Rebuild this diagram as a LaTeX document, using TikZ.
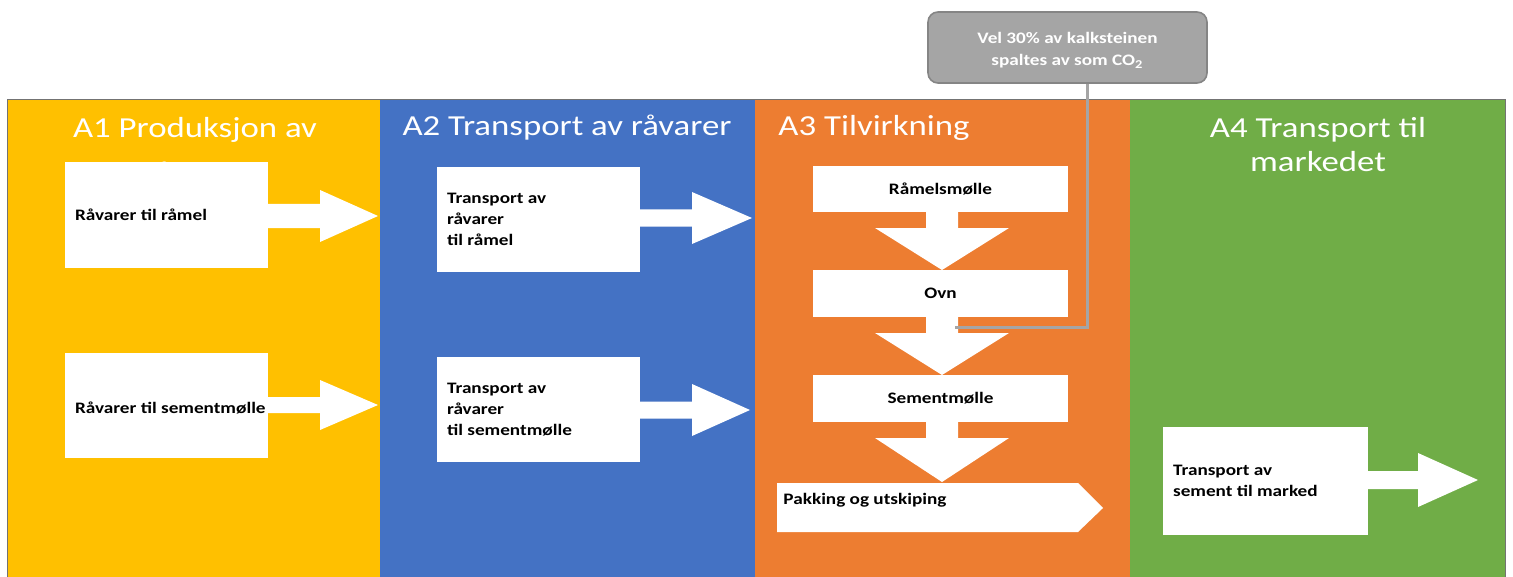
\documentclass[tikz,border=0pt]{standalone}
\usepackage{fontspec}
\setmainfont{Carlito}
\usetikzlibrary{fit}
\definecolor{cyel}{HTML}{FFC000}
\definecolor{cblue}{HTML}{4472C4}
\definecolor{corange}{HTML}{ED7D31}
\definecolor{cgreen}{HTML}{70AD47}
\definecolor{cgray}{HTML}{A5A5A5}
\definecolor{cgrayd}{HTML}{858585}
\newcommand{\hblock}[6]{\fill[white] (#1,{#4-#5}) -- (#2,{#4-#5}) -- (#2,{#4-#6}) -- (#3,#4) -- (#2,{#4+#6}) -- (#2,{#4+#5}) -- (#1,{#4+#5}) -- cycle;}
\newcommand{\vblock}[6]{\fill[white] ({#1-#5},#2) -- ({#1-#5},#3) -- ({#1-#6},#3) -- (#1,#4) -- ({#1+#6},#3) -- ({#1+#5},#3) -- ({#1+#5},#2) -- cycle;}
\tikzset{
  colbox/.style={inner sep=0pt},
  wbox/.style={fill=white, inner sep=0pt},
  head/.style={text=white, font=\fontsize{14.5}{17}\selectfont, align=center, inner sep=0pt, xscale=1.2, transform shape},
  btxt/.style={text=black, font=\fontsize{8}{10.5}\selectfont\bfseries, align=left, inner sep=0pt, anchor=west, xscale=1.2, transform shape},
  ctxt/.style={text=black, font=\fontsize{8}{10.5}\selectfont\bfseries, inner sep=0pt, xscale=1.2, transform shape},
  callout/.style={fill=cgray, draw=cgrayd, line width=0.8pt, rounded corners=5pt, inner sep=0pt},
  cotxt/.style={text=white, font=\fontsize{8}{11}\selectfont\bfseries, align=center, inner sep=0pt, xscale=1.2, transform shape},
  conn/.style={draw=cgray, line width=1.5pt}
}
\begin{document}
\begin{tikzpicture}[x=0.5pt, y=-0.5pt]
\useasboundingbox (0,0) rectangle (1513,577);
% columns
\node[colbox, fill=cyel, fit={(8,100)(380,577)}] (c1) {};
\node[colbox, fill=cblue, fit={(380,100)(755,577)}] (c2) {};
\node[colbox, fill=corange, fit={(755,100)(1130,577)}] (c3) {};
\node[colbox, fill=cgreen, fit={(1130,100)(1505,577)}] (c4) {};
\draw[black!55, line width=0.5pt] (c1.south west) -- (c1.north west) -- (c4.north east) -- (c4.south east);
% headers
\node[head, anchor=north, font=\fontsize{14.5}{22.5}\selectfont] (h1) at (195,117) {A1 Produksjon av\\råvarer};
\node[head] (h2) at (567,128) {A2 Transport av råvarer};
\node[head, anchor=west] (h3) at (778,128) {A3 Tilvirkning};
\node[head, anchor=north] (h4) at (1318,117) {A4 Transport til\\markedet};
% A1
\node[wbox, fit={(65,162)(268,268)}] (a1r) {};
\node[btxt] at ([xshift=5pt]a1r.west) {Råvarer til råmel};
\hblock{268}{320}{378}{216}{12}{26}
\node[wbox, fit={(65,353)(268,458)}] (a1s) {};
\hblock{268}{320}{378}{405}{8}{25}
\node[btxt] at ([xshift=5pt,yshift=-1pt]a1s.west) {Råvarer til sementmølle};
% A2
\node[wbox, fit={(437,167)(640,272)}] (a2r) {};
\node[btxt] at ([xshift=5pt]a2r.west) {Transport av\\råvarer\\til råmel};
\hblock{640}{692}{752}{218}{8.5}{26}
\node[wbox, fit={(437,357)(640,462)}] (a2s) {};
\node[btxt] at ([xshift=5pt]a2s.west) {Transport av\\råvarer\\til sementmølle};
\hblock{640}{692}{750}{410}{8.5}{26}
% A3
\node[wbox, fit={(813,166)(1068,212)}] (rm) {};
\node[ctxt] at (rm.center) {Råmelsmølle};
\node[wbox, fit={(813,270)(1068,317)}] (ovn) {};
\node[ctxt] at (ovn.center) {Ovn};
\node[wbox, fit={(813,375)(1068,422)}] (sm) {};
\node[ctxt] at (sm.center) {Sementmølle};
\vblock{942}{212}{228}{270}{16}{67}
\vblock{942}{317}{333}{375}{16}{67}
\vblock{942}{422}{438}{482}{16}{67}
\fill[white] (777,483) -- (1078,483) -- (1103,508) -- (1078,532) -- (777,532) -- cycle;
\coordinate (pk) at (777,508);
\node[btxt] at ([xshift=3pt,yshift=4pt]pk) {Pakking og utskiping};
% A4
\node[wbox, fit={(1163,427)(1368,535)}] (a4) {};
\node[btxt] at ([xshift=5pt]a4.west) {Transport av\\sement til marked};
\hblock{1368}{1418}{1478}{480}{9}{27}
% callout
\node[callout, fit={(928,12)(1207,83)}] (co) {};
\node[cotxt] at ([yshift=-1.5pt]co.center) {Vel 30\% av kalksteinen\\spaltes av som CO\textsubscript{2}};
\coordinate (ce) at (955,327);
\draw[conn] (co.south -| 1087,0) -- (1087,327) -- (ce);
\end{tikzpicture}
\end{document}
